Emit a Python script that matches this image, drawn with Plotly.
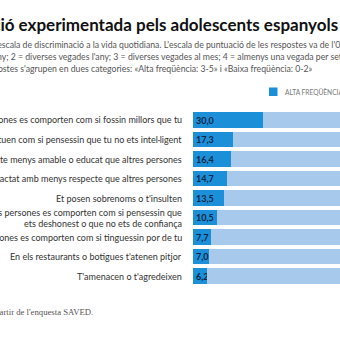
import plotly.graph_objects as go

categories = [
    "Les persones es comporten com si fossin millors que tu",
    "Les persones actuen com si pensessin que tu no ets intel·ligent",
    "Reps un tracte menys amable o educat que altres persones",
    "Ets tractat amb menys respecte que altres persones",
    "Et posen sobrenoms o t'insulten",
    "Altres persones es comporten com si pensessin que<br>ets deshonest o que no ets de confiança",
    "Les persones es comporten com si tinguessin por de tu",
    "En els restaurants o botigues t'atenen pitjor",
    "T'amenacen o t'agredeixen",
]
alta = [30.0, 17.3, 16.4, 14.7, 13.5, 10.5, 7.7, 7.0, 6.2]
baixa = [round(100 - v, 1) for v in alta]
series_names = ["ALTA FREQÜÈNCIA", "BAIXA FREQÜÈNCIA"]

title = "Discriminació experimentada pels adolescents espanyols"
sub1 = "L'escala de discriminació a la vida quotidiana. L'escala de puntuació de les respostes va de l'0 a 5"
sub2 = "l'any; 2 = diverses vegades l'any; 3 = diverses vegades al mes; 4 = almenys una vegada per setmana"
sub3 = "Les respostes s'agrupen en dues categories: «Alta freqüència: 3-5» i «Baixa freqüència: 0-2»"
source = "Font: elaboració pròpia a partir de l'enquesta SAVED."

DARK = "#1b8fd8"
LIGHT = "#a6c9ec"
SANS = "Lato"

W = H = 340
def px(x):
    return x / W
def py(y):
    return 1 - y / H

fig = go.Figure()
fig.add_trace(go.Bar(
    y=categories, x=alta, orientation="h", name=series_names[0],
    marker=dict(color=DARK, line=dict(width=0)),
    texttemplate="%{x:.1f}", textposition="inside", insidetextanchor="start",
    constraintext="none", textangle=0,
    textfont=dict(family=SANS, size=9, color="#0b2545", weight="bold"),
    showlegend=False,
))
fig.add_trace(go.Bar(
    y=categories, x=baixa, orientation="h", name=series_names[1],
    marker=dict(color=LIGHT, line=dict(width=0)),
    showlegend=False, hoverinfo="skip",
))

top, bottom = 110.25, 285.75
fig.update_layout(
    width=W, height=H,
    margin=dict(l=0, r=0, t=0, b=0, autoexpand=False),
    paper_bgcolor="white", plot_bgcolor="white",
    barmode="stack", bargap=0.23,
    separators=",.",
    uniformtext=dict(mode="show", minsize=9),
    font=dict(family=SANS),
    xaxis=dict(domain=[193 / W, 1], range=[0, (W - 193) / 2.33],
               visible=False, fixedrange=True, automargin=False),
    yaxis=dict(domain=[py(bottom), py(top)], autorange="reversed",
               automargin=False, showticklabels=False,
               showgrid=False, zeroline=False, showline=False, ticks=""),
)

ann = []
LABEL_SIZE = 9.0
LINE_GAP = 11
for cat in categories:
    lines = cat.split("<br>")
    n = len(lines)
    for i, ln in enumerate(lines):
        shift = ((n - 1) / 2 - i) * LINE_GAP
        ann.append(dict(text=ln, xref="paper", yref="y", x=px(184), y=cat,
                        xanchor="right", yanchor="middle", yshift=shift,
                        font=dict(family=SANS, size=LABEL_SIZE, color="#333333")))

ann.append(dict(text=title, x=px(-90), y=py(25), xanchor="left", yanchor="middle",
                font=dict(family=SANS, size=17, color="#111111", weight="bold")))
ann.append(dict(text=sub1, x=px(-10), y=py(44.5), xanchor="left", yanchor="middle",
                font=dict(family=SANS, size=8.7, color="#555555")))
ann.append(dict(text=sub2, x=px(-13), y=py(56.5), xanchor="left", yanchor="middle",
                font=dict(family=SANS, size=8.7, color="#555555")))
ann.append(dict(text=sub3, x=px(315), y=py(68.5), xanchor="right", yanchor="middle",
                font=dict(family=SANS, size=8.7, color="#555555")))
ann.append(dict(text=series_names[0], x=px(283), y=py(92), xanchor="left", yanchor="middle",
                font=dict(family=SANS, size=6.6, color="#777777")))
ann.append(dict(text=source, x=px(95), y=py(312), xanchor="right", yanchor="middle",
                font=dict(family="Liberation Serif", size=8.7, color="#555555")))
for a in ann:
    a.setdefault("xref", "paper")
    a.setdefault("yref", "paper")
    a["showarrow"] = False
fig.update_layout(annotations=ann)

fig.add_shape(type="rect", xref="paper", yref="paper",
              x0=px(269), x1=px(277.5), y0=py(96), y1=py(87.5),
              fillcolor=DARK, line=dict(width=0))

fig.write_html("out.html", config={"displayModeBar": False})
